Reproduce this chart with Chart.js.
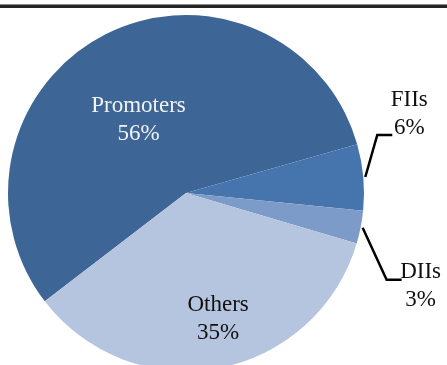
<!DOCTYPE html>
<html>
<head>
<meta charset="utf-8">
<script src="https://cdn.jsdelivr.net/npm/chart.js@4.4.1/dist/chart.umd.min.js"></script>
<style>
  html, body { margin: 0; padding: 0; background: #fff; overflow: hidden; }
  #wrap { position: relative; width: 447px; height: 365px; overflow: hidden; }
  #rule { position: absolute; left: 0; top: 4px; width: 447px; height: 4px;
          background: #262626; border-top: 1px solid #8a8a8a; box-sizing: border-box; }
  canvas { position: absolute; left: 0; top: 0; }
</style>
</head>
<body>
<div id="wrap">
  <div id="rule"></div>
  <canvas id="pie" width="447" height="372"></canvas>
</div>
<script>
// shareholding split, percent
const holders = ["Promoters", "FIIs", "DIIs", "Others"];
const shares = [56, 6, 3, 35];
const sliceColors = ["#3d6696", "#4675ad", "#7c9bc8", "#b5c4df"];

const FONT = '23px "Liberation Serif", "Times New Roman", serif';
const LINE_H = 28;

// where each label sits: inside the slice, or outside with a bent leader line
const labelPlacement = {
  Promoters: { inside: true, r: 0.49, turn: -6.3, color: "#f2f2f2" },
  Others:    { inside: true, r: 0.73, turn: -3.8, color: "#111" },
  FIIs:      { inside: false, elbow: [12, -42], run: 15, text: [17, -21] },
  DIIs:      { inside: false, elbow: [24, 52], run: 15, text: [19, 6] }
};

const sliceLabels = {
  id: "sliceLabels",
  afterDatasetsDraw(chart) {
    const ctx = chart.ctx;
    const arcs = chart.getDatasetMeta(0).data;
    ctx.save();
    ctx.font = FONT;
    ctx.textAlign = "center";
    ctx.textBaseline = "middle";
    arcs.forEach((arc, i) => {
      const name = chart.data.labels[i];
      const val = chart.data.datasets[0].data[i];
      const p = labelPlacement[name];
      const { x, y, startAngle, endAngle, outerRadius } = arc.getProps(
        ["x", "y", "startAngle", "endAngle", "outerRadius"], true);
      const mid = (startAngle + endAngle) / 2;
      const lines = [name, val + "%"];
      if (p.inside) {
        const a = mid + p.turn * Math.PI / 180;
        const cx = x + Math.cos(a) * outerRadius * p.r;
        const cy = y + Math.sin(a) * outerRadius * p.r;
        ctx.fillStyle = p.color;
        ctx.fillText(lines[0], cx, cy - LINE_H / 2);
        ctx.fillText(lines[1], cx, cy + LINE_H / 2);
      } else {
        const sx = x + Math.cos(mid) * (outerRadius + 2);
        const sy = y + Math.sin(mid) * (outerRadius + 2);
        const ex = sx + p.elbow[0], ey = sy + p.elbow[1];
        ctx.strokeStyle = "#000";
        ctx.lineWidth = 2.5;
        ctx.beginPath();
        ctx.moveTo(sx, sy);
        ctx.lineTo(ex, ey);
        ctx.lineTo(ex + p.run, ey);
        ctx.stroke();
        const tx = ex + p.run + p.text[0];
        const ty = ey + p.text[1];
        ctx.fillStyle = "#111";
        ctx.fillText(lines[0], tx, ty - LINE_H / 2);
        ctx.fillText(lines[1], tx, ty + LINE_H / 2);
      }
    });
    ctx.restore();
  }
};

new Chart(document.getElementById("pie"), {
  type: "pie",
  data: {
    labels: holders,
    datasets: [{
      data: shares,
      backgroundColor: sliceColors,
      borderWidth: 0
    }]
  },
  options: {
    responsive: false,
    animation: false,
    rotation: 232.5,
    layout: { padding: { left: 8, right: 83, top: 15, bottom: 1 } },
    plugins: {
      legend: { display: false },
      tooltip: { enabled: false }
    }
  },
  plugins: [sliceLabels]
});
</script>
</body>
</html>
